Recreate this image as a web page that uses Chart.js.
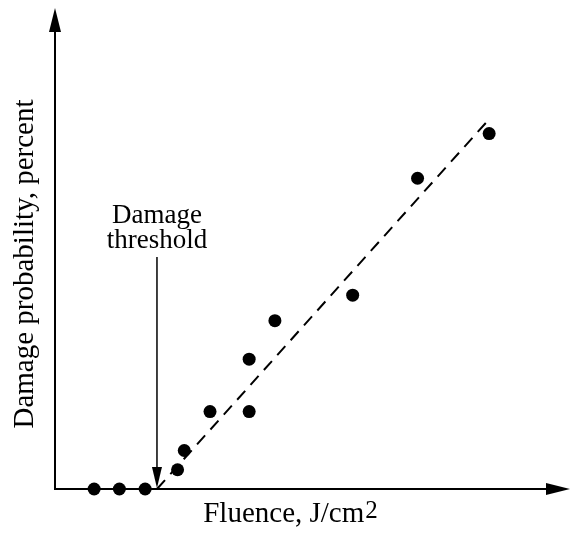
<!DOCTYPE html>
<html>
<head>
<meta charset="utf-8">
<script src="https://cdn.jsdelivr.net/npm/chart.js@4/dist/chart.umd.min.js"></script>
<style>
  html, body { margin: 0; padding: 0; background: #fff; }
  canvas { display: block; }
</style>
</head>
<body>
<canvas id="damageChart" width="572" height="533"></canvas>
<script>
// Damage probability vs fluence (arbitrary units, axes have no ticks)
const fluence = [7.6, 12.5, 17.5, 23.8, 25.1, 30.1, 37.7, 37.7, 42.7, 57.8, 70.4, 84.3];
const damage = [0, 0, 0, 4.0, 8.0, 16.1, 16.1, 27.0, 35.0, 40.3, 64.6, 73.9];

// Dashed fit line, starts at the threshold
const fitX = [19.8, 83.9];
const fitY = [0, 76.4];
const thresholdX = 19.8;

const points = fluence.map((x, i) => ({ x: x, y: damage[i] }));
const fitLine = fitX.map((x, i) => ({ x: x, y: fitY[i] }));

const SERIF = '"Liberation Serif", "DejaVu Serif", serif';

function arrowHead(ctx, tipX, tipY, dir, len, half) {
    // dir: 'up', 'down', 'right'
    ctx.beginPath();
    ctx.moveTo(tipX, tipY);
    if (dir === 'up') {
        ctx.lineTo(tipX - half, tipY + len);
        ctx.lineTo(tipX + half, tipY + len);
    } else if (dir === 'down') {
        ctx.lineTo(tipX - half, tipY - len);
        ctx.lineTo(tipX + half, tipY - len);
    } else {
        ctx.lineTo(tipX - len, tipY - half);
        ctx.lineTo(tipX - len, tipY + half);
    }
    ctx.closePath();
    ctx.fill();
}

const axesPlugin = {
    id: 'axesPlugin',
    beforeDatasetsDraw(chart) {
        const ctx = chart.ctx;
        const area = chart.chartArea;
        const xs = chart.scales.x;
        const ys = chart.scales.y;
        const x0 = xs.getPixelForValue(0);
        const y0 = ys.getPixelForValue(0);

        ctx.save();
        ctx.strokeStyle = '#000';
        ctx.fillStyle = '#000';
        ctx.lineWidth = 2;

        // y axis
        ctx.beginPath();
        ctx.moveTo(x0, y0 + 1);
        ctx.lineTo(x0, area.top + 20);
        ctx.stroke();
        arrowHead(ctx, x0, area.top, 'up', 24, 6);

        // x axis
        ctx.beginPath();
        ctx.moveTo(x0 - 1, y0);
        ctx.lineTo(area.right - 20, y0);
        ctx.stroke();
        arrowHead(ctx, area.right, y0, 'right', 24, 6);

        // threshold arrow
        const tx = xs.getPixelForValue(thresholdX);
        ctx.lineWidth = 1.5;
        ctx.beginPath();
        ctx.moveTo(tx, 257);
        ctx.lineTo(tx, y0 - 16);
        ctx.stroke();
        arrowHead(ctx, tx, y0 - 1, 'down', 21, 5);
        ctx.restore();
    },
    afterDraw(chart) {
        const ctx = chart.ctx;
        const xs = chart.scales.x;
        const tx = xs.getPixelForValue(thresholdX);

        ctx.save();
        ctx.fillStyle = '#000';
        ctx.font = '27px ' + SERIF;
        ctx.textAlign = 'center';
        ctx.textBaseline = 'alphabetic';
        ctx.fillText('Damage', tx, 223);
        ctx.fillText('threshold', tx, 248);

        // x axis title with superscript
        const main = 'Fluence, J/cm';
        ctx.font = '29px ' + SERIF;
        const mainW = ctx.measureText(main).width;
        ctx.font = '25px ' + SERIF;
        const supW = ctx.measureText('2').width;
        const startX = 290 - (mainW + supW) / 2;
        ctx.textAlign = 'left';
        ctx.font = '29px ' + SERIF;
        ctx.fillText(main, startX, 522);
        ctx.font = '25px ' + SERIF;
        ctx.fillText('2', startX + mainW + 1, 518);

        // y axis title
        ctx.translate(33, 264);
        ctx.rotate(-Math.PI / 2);
        ctx.font = '29px ' + SERIF;
        ctx.textAlign = 'center';
        ctx.fillText('Damage probability, percent', 0, 0);
        ctx.restore();
    }
};

new Chart(document.getElementById('damageChart'), {
    type: 'scatter',
    data: {
        datasets: [
            {
                label: 'Measured',
                data: points,
                pointRadius: 6.5,
                pointHoverRadius: 6.5,
                backgroundColor: '#000',
                borderColor: '#000',
                borderWidth: 0,
                clip: false
            },
            {
                label: 'Fit',
                type: 'line',
                data: fitLine,
                borderColor: '#000',
                borderWidth: 2,
                borderDash: [12, 8],
                pointRadius: 0,
                fill: false,
                clip: false
            }
        ]
    },
    options: {
        responsive: false,
        animation: false,
        layout: {
            autoPadding: false,
            padding: { left: 55, right: 2, top: 8, bottom: 44 }
        },
        plugins: {
            legend: { display: false },
            tooltip: { enabled: false }
        },
        scales: {
            x: { type: 'linear', min: 0, max: 100, display: false },
            y: { type: 'linear', min: 0, max: 100, display: false }
        }
    },
    plugins: [axesPlugin]
});
</script>
</body>
</html>
